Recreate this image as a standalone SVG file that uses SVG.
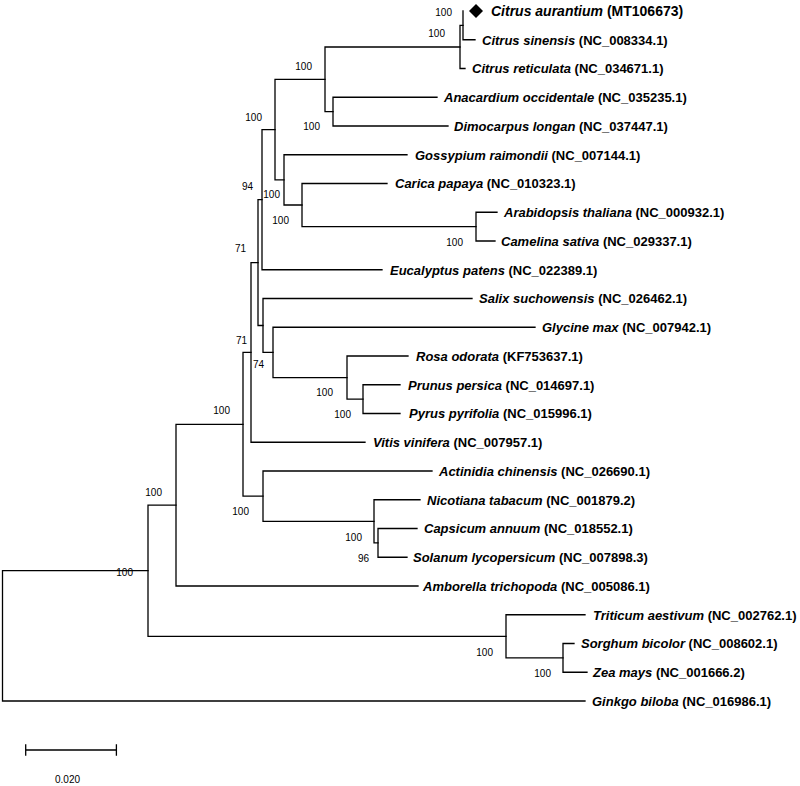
<svg xmlns="http://www.w3.org/2000/svg" width="800" height="786" viewBox="0 0 800 786">
<style>
.br{fill:none;stroke:#000;stroke-width:1.3;stroke-linecap:square}
.lf{font-family:"Liberation Sans",Arial,sans-serif;font-size:13px;font-weight:bold;fill:#000}
.lf tspan.sp{font-style:italic}
.bs{font-family:"Liberation Sans",Arial,sans-serif;font-size:10px;fill:#000;text-anchor:end}
.sc{font-family:"Liberation Sans",Arial,sans-serif;font-size:10px;fill:#000}
</style>
<rect width="800" height="786" fill="#fff"/>
<g id="connectors">
<path class="br" d="M463,11 V39.75 H475"/>
<path class="br" d="M463,25.4 H460 V68.5 H465"/>
<path class="br" d="M437,97.25 H333 V126 H448"/>
<path class="br" d="M460,47 H325 V111.6 H333"/>
<path class="br" d="M497,212.25 H476 V241 H495"/>
<path class="br" d="M387,183.5 H302 V226.6 H476"/>
<path class="br" d="M407,154.75 H284 V205 H302"/>
<path class="br" d="M325,79.3 H275 V179.9 H284"/>
<path class="br" d="M275,129.6 H262 V269.75 H382"/>
<path class="br" d="M400,384.75 H363 V413.5 H400"/>
<path class="br" d="M408,356 H347 V399.1 H363"/>
<path class="br" d="M535,327.25 H273 V377.6 H347"/>
<path class="br" d="M472,298.5 H263 V352.4 H273"/>
<path class="br" d="M262,199.7 H258 V325.5 H263"/>
<path class="br" d="M258,262.6 H251 V442.25 H365"/>
<path class="br" d="M417,528.5 H378 V557.25 H407"/>
<path class="br" d="M420,499.75 H374 V542.9 H378"/>
<path class="br" d="M432,471 H263 V521.3 H374"/>
<path class="br" d="M251,352.4 H243 V496.2 H263"/>
<path class="br" d="M243,424.3 H176 V586 H418"/>
<path class="br" d="M574,643.5 H563 V672.25 H587"/>
<path class="br" d="M585,614.75 H506 V657.9 H563"/>
<path class="br" d="M176,505.1 H148 V636.3 H506"/>
<path class="br" d="M148,570.7 H2.5 V701 H585"/>
</g>
<g id="leaves">
<g id="citrus-aurantium"><path d="M476,4 L483,11 L476,18 L469,11 Z" fill="#000"/><text class="lf" x="491" y="16" style="font-size:14px"><tspan class="sp">Citrus aurantium</tspan> (MT106673)</text></g>
<g id="citrus-sinensis"><text class="lf" x="482" y="44.5"><tspan class="sp">Citrus sinensis</tspan> (NC_008334.1)</text></g>
<g id="citrus-reticulata"><text class="lf" x="472" y="73.2"><tspan class="sp">Citrus reticulata</tspan> (NC_034671.1)</text></g>
<g id="anacardium"><text class="lf" x="444" y="102"><tspan class="sp">Anacardium occidentale</tspan> (NC_035235.1)</text></g>
<g id="dimocarpus"><text class="lf" x="454" y="130.7"><tspan class="sp">Dimocarpus longan</tspan> (NC_037447.1)</text></g>
<g id="gossypium"><text class="lf" x="415" y="159.5"><tspan class="sp">Gossypium raimondii</tspan> (NC_007144.1)</text></g>
<g id="carica"><text class="lf" x="395" y="188.2"><tspan class="sp">Carica papaya</tspan> (NC_010323.1)</text></g>
<g id="arabidopsis"><text class="lf" x="504" y="217"><tspan class="sp">Arabidopsis thaliana</tspan> (NC_000932.1)</text></g>
<g id="camelina"><text class="lf" x="501" y="245.7"><tspan class="sp">Camelina sativa</tspan> (NC_029337.1)</text></g>
<g id="eucalyptus"><text class="lf" x="390" y="274.5"><tspan class="sp">Eucalyptus patens</tspan> (NC_022389.1)</text></g>
<g id="salix"><text class="lf" x="479" y="303.2"><tspan class="sp">Salix suchowensis</tspan> (NC_026462.1)</text></g>
<g id="glycine"><text class="lf" x="542" y="332"><tspan class="sp">Glycine max</tspan> (NC_007942.1)</text></g>
<g id="rosa"><text class="lf" x="416" y="360.7"><tspan class="sp">Rosa odorata</tspan> (KF753637.1)</text></g>
<g id="prunus"><text class="lf" x="408" y="389.5"><tspan class="sp">Prunus persica</tspan> (NC_014697.1)</text></g>
<g id="pyrus"><text class="lf" x="409" y="418.2"><tspan class="sp">Pyrus pyrifolia</tspan> (NC_015996.1)</text></g>
<g id="vitis"><text class="lf" x="373" y="447"><tspan class="sp">Vitis vinifera</tspan> (NC_007957.1)</text></g>
<g id="actinidia"><text class="lf" x="439" y="475.7"><tspan class="sp">Actinidia chinensis</tspan> (NC_026690.1)</text></g>
<g id="nicotiana"><text class="lf" x="427" y="504.5"><tspan class="sp">Nicotiana tabacum</tspan> (NC_001879.2)</text></g>
<g id="capsicum"><text class="lf" x="424" y="533.2"><tspan class="sp">Capsicum annuum</tspan> (NC_018552.1)</text></g>
<g id="solanum"><text class="lf" x="413" y="562"><tspan class="sp">Solanum lycopersicum</tspan> (NC_007898.3)</text></g>
<g id="amborella"><text class="lf" x="423" y="590.7"><tspan class="sp">Amborella trichopoda</tspan> (NC_005086.1)</text></g>
<g id="triticum"><text class="lf" x="593" y="619.5"><tspan class="sp">Triticum aestivum</tspan> (NC_002762.1)</text></g>
<g id="sorghum"><text class="lf" x="581" y="648.2"><tspan class="sp">Sorghum bicolor</tspan> (NC_008602.1)</text></g>
<g id="zea"><text class="lf" x="593" y="677"><tspan class="sp">Zea mays</tspan> (NC_001666.2)</text></g>
<g id="ginkgo"><text class="lf" x="592" y="705.7"><tspan class="sp">Ginkgo biloba</tspan> (NC_016986.1)</text></g>
</g>
<g id="bootstrap">
<g id="n-aursin"><text class="bs" x="452" y="15.5">100</text></g>
<g id="n-citrus"><text class="bs" x="445" y="36.5">100</text></g>
<g id="n-sapindales"><text class="bs" x="312" y="69.5">100</text></g>
<g id="n-anadim"><text class="bs" x="320" y="129.5">100</text></g>
<g id="n-malvids"><text class="bs" x="262" y="120.5">100</text></g>
<g id="n-gosbra"><text class="bs" x="280" y="197.5">100</text></g>
<g id="n-brassicales"><text class="bs" x="289" y="223.5">100</text></g>
<g id="n-arabcam"><text class="bs" x="463" y="245.5">100</text></g>
<g id="n-a"><text class="bs" x="253" y="189.5">94</text></g>
<g id="n-b"><text class="bs" x="246" y="251.5">71</text></g>
<g id="n-d"><text class="bs" x="247" y="343.5">71</text></g>
<g id="n-p"><text class="bs" x="264" y="367.5">74</text></g>
<g id="n-rosaceae"><text class="bs" x="333" y="395.5">100</text></g>
<g id="n-prupyr"><text class="bs" x="351" y="417.5">100</text></g>
<g id="n-e"><text class="bs" x="230" y="413.5">100</text></g>
<g id="n-f"><text class="bs" x="249" y="514.5">100</text></g>
<g id="n-solanaceae"><text class="bs" x="362" y="540.5">100</text></g>
<g id="n-capsol"><text class="bs" x="369" y="561.5">96</text></g>
<g id="n-angio-dicots"><text class="bs" x="162" y="495.5">100</text></g>
<g id="n-angio"><text class="bs" x="133" y="575.5">100</text></g>
<g id="n-monocots"><text class="bs" x="493" y="655.5">100</text></g>
<g id="n-sorzea"><text class="bs" x="551" y="676.5">100</text></g>
</g>
<g id="scale-bar">
<path class="br" d="M25.7,750 H116.4 M25.7,745 V755 M116.4,745 V755"/>
<text class="sc" x="55" y="782.5">0.020</text>
</g>
</svg>
